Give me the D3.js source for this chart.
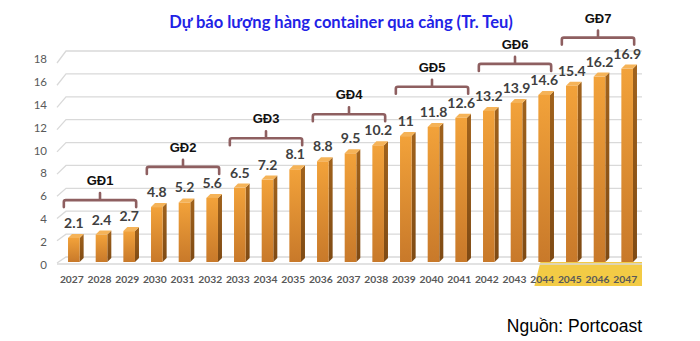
<!DOCTYPE html>
<html><head><meta charset="utf-8">
<script src="https://cdn.jsdelivr.net/npm/d3@7"></script>
<style>body{margin:0;background:#fff}svg{display:block}</style>
</head><body>
<script>
const years = ["2027","2028","2029","2030","2031","2032","2033","2034","2035","2036","2037","2038","2039","2040","2041","2042","2043","2044","2045","2046","2047"];
const values = [2.1,2.4,2.7,4.8,5.2,5.6,6.5,7.2,8.1,8.8,9.5,10.2,11,11.8,12.6,13.2,13.9,14.6,15.4,16.2,16.9];
const yTicks = [0,2,4,6,8,10,12,14,16,18];
const phaseNames = ["GĐ1","GĐ2","GĐ3","GĐ4","GĐ5","GĐ6","GĐ7"];
const phaseStart = ["2027","2030","2033","2036","2039","2042","2045"];
const phaseEnd   = ["2029","2032","2035","2038","2041","2044","2047"];
const highlightYears = ["2044","2045","2046","2047"];
const title = "Dự báo lượng hàng container qua cảng (Tr. Teu)";
const source = "Nguồn: Portcoast";

const W = 700, H = 341;
const svg = d3.select("body").append("svg").attr("width", W).attr("height", H);
const defs = svg.append("defs");
const g1 = defs.append("linearGradient").attr("id","front").attr("x1",0).attr("y1",0).attr("x2",0).attr("y2",1);
g1.append("stop").attr("offset","0%").attr("stop-color","#F2A23A");
g1.append("stop").attr("offset","100%").attr("stop-color","#C8792A");
const g2 = defs.append("linearGradient").attr("id","side").attr("x1",0).attr("y1",0).attr("x2",0).attr("y2",1);
g2.append("stop").attr("offset","0%").attr("stop-color","#A0621C");
g2.append("stop").attr("offset","100%").attr("stop-color","#7E4A14");

const x = d3.scaleBand().domain(years).range([60, 641]).paddingInner(0.58).paddingOuter(0.29);
const yBack = d3.scaleLinear().domain([0,18]).range([257, 51]);
const front = 5;
const yF = v => yBack(v) + front;
const dx = 4, dy = 4;
const cx = d => x(d) + x.bandwidth()/2;

svg.append("text").attr("x", 341).attr("y", 28).attr("text-anchor","middle")
  .attr("font-family","Lato, 'Open Sans', sans-serif").attr("font-weight","bold")
  .attr("font-size", 16.5).attr("fill","#2222E6").text(title);

const grid = svg.append("g");
yTicks.forEach(t => {
  const yb = yBack(t);
  const drop = 6 + 6 * t / 18;
  grid.append("path").attr("d", `M57,${yb+drop}L66,${yb}L642,${yb}`)
    .attr("fill","none").attr("stroke","#d9d9d9").attr("stroke-width",1.3);
});

svg.append("g").selectAll("text").data(yTicks).join("text")
  .attr("x", 47).attr("y", d => yBack(d) + 8 + 4)
  .attr("text-anchor","end").attr("font-family","Lato, 'Open Sans', sans-serif")
  .attr("font-size", 11.5).attr("fill","#595959").text(d => d);

const hx0 = x(highlightYears[0]) - 4, hx1 = 642;
svg.append("path").attr("d", `M${hx0+6},262L${hx1},262L${hx1},286L${hx0},286Z`).attr("fill","#F3CB45");

svg.append("line").attr("x1",57).attr("x2",642).attr("y1",264).attr("y2",264)
  .attr("stroke","#d9d9d9").attr("stroke-width",1.3);

const bars = svg.append("g").selectAll("g").data(years).join("g");
bars.each(function(yr, i){
  const g = d3.select(this);
  const v = values[i];
  const x0 = x(yr), w = x.bandwidth(), yt = yF(v), yb = yF(0);
  g.append("path").attr("d", `M${x0+w},${yt}L${x0+w+dx},${yt-dy}L${x0+w+dx},${yb-dy}L${x0+w},${yb}Z`).attr("fill","url(#side)");
  g.append("path").attr("d", `M${x0},${yt}L${x0+dx},${yt-dy}L${x0+w+dx},${yt-dy}L${x0+w},${yt}Z`).attr("fill","#F5B358");
  g.append("rect").attr("x", x0).attr("y", yt).attr("width", w).attr("height", yb - yt).attr("fill","url(#front)");
});

svg.append("g").selectAll("text").data(years).join("text")
  .attr("x", d => cx(d)).attr("y", (d,i) => yF(values[i]) - 10)
  .attr("text-anchor","middle").attr("font-family","Lato, 'Open Sans', sans-serif")
  .attr("font-weight","bold").attr("font-size", 14).attr("fill","#404040")
  .text((d,i) => values[i]);

svg.append("g").selectAll("text").data(years).join("text")
  .attr("x", d => cx(d) - 2).attr("y", 283)
  .attr("text-anchor","middle").attr("font-family","Lato, 'Open Sans', sans-serif")
  .attr("font-weight","bold").attr("font-size", 10.3).attr("fill","#595959").text(d => d);

const br = svg.append("g");
phaseNames.forEach((name, k) => {
  const i0 = years.indexOf(phaseStart[k]), i1 = years.indexOf(phaseEnd[k]);
  const maxV = d3.max(values.slice(i0, i1 + 1));
  const yb = yF(maxV) - 31;
  const xa = cx(phaseStart[k]) - 10, xb = cx(phaseEnd[k]) + 7, xm = (xa + xb) / 2;
  br.append("path")
    .attr("d", `M${xa},${yb+7}L${xa},${yb+2}Q${xa},${yb} ${xa+2},${yb}L${xb-2},${yb}Q${xb},${yb} ${xb},${yb+2}L${xb},${yb+7}M${xm},${yb}L${xm},${yb-7}`)
    .attr("fill","none").attr("stroke","#8E5F60").attr("stroke-width",2.6).attr("stroke-linecap","round");
  br.append("text").attr("x", xm).attr("y", yb - 15).attr("text-anchor","middle")
    .attr("font-family","'Liberation Sans', Arial, sans-serif").attr("font-weight","bold")
    .attr("font-size", 13).attr("fill","#111").text(name);
});

svg.append("text").attr("x", 642).attr("y", 332).attr("text-anchor","end")
  .attr("font-family","'Liberation Sans', Arial, sans-serif").attr("font-size", 17.5)
  .attr("fill","#000").text(source);
</script>
</body></html>
